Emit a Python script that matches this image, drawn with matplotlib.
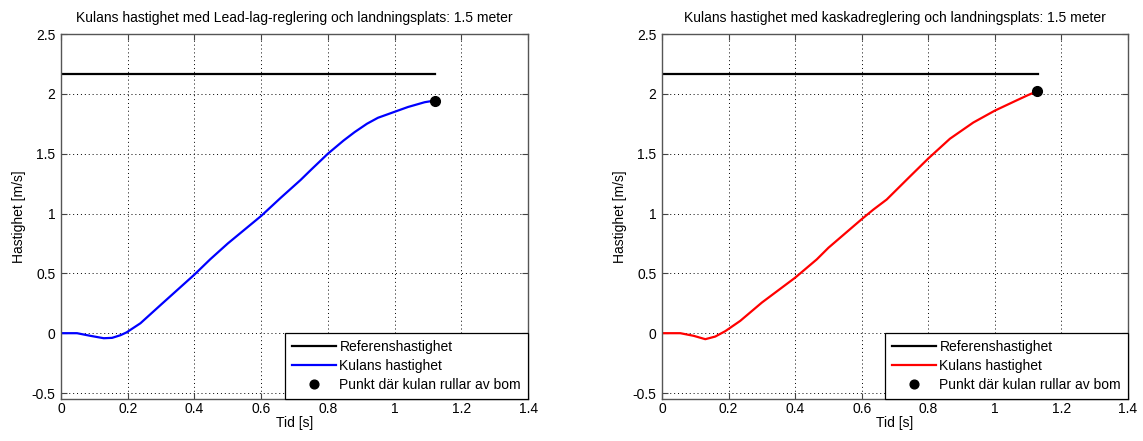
import numpy as np
import matplotlib.pyplot as plt

plt.rcParams['font.family'] = ['Liberation Sans', 'DejaVu Sans']
plt.rcParams['font.size'] = 10

# Lead-lag controller (left)
t_lead = [0, 0.048, 0.088, 0.128, 0.153, 0.178, 0.196, 0.238, 0.301, 0.4, 0.447, 0.5,
          0.6, 0.658, 0.718, 0.75, 0.8, 0.847, 0.88, 0.917, 0.95, 1.0, 1.04, 1.09, 1.12]
v_lead = [0, 0, -0.022, -0.042, -0.039, -0.017, 0.006, 0.083, 0.242, 0.49, 0.617, 0.75,
          0.98, 1.13, 1.28, 1.367, 1.5, 1.61, 1.68, 1.75, 1.80, 1.85, 1.89, 1.93, 1.944]
ref_lead_t = [0, 1.122]
ref_lead_v = [2.167, 2.167]
end_lead = (1.12, 1.944)

# Cascade controller (right)
t_kask = [0, 0.055, 0.095, 0.13, 0.16, 0.19, 0.235, 0.3, 0.4, 0.465, 0.5, 0.6, 0.635,
          0.675, 0.745, 0.8, 0.865, 0.935, 1.0, 1.065, 1.1, 1.127]
v_kask = [0, 0, -0.022, -0.05, -0.028, 0.017, 0.103, 0.256, 0.464, 0.617, 0.714, 0.953,
          1.033, 1.117, 1.31, 1.46, 1.625, 1.76, 1.86, 1.945, 1.99, 2.022]
ref_kask_t = [0, 1.13]
ref_kask_v = [2.167, 2.167]
end_kask = (1.127, 2.022)

x_ticks = [0, 0.2, 0.4, 0.6, 0.8, 1, 1.2, 1.4]
x_ticklabels = ['0', '0.2', '0.4', '0.6', '0.8', '1', '1.2', '1.4']
y_ticks = [-0.5, 0, 0.5, 1, 1.5, 2, 2.5]
y_ticklabels = ['-0.5', '0', '0.5', '1', '1.5', '2', '2.5']

panels = [
    ("Kulans hastighet med Lead-lag-reglering och landningsplats: 1.5 meter",
     t_lead, v_lead, ref_lead_t, ref_lead_v, end_lead, '#0000ff'),
    ("Kulans hastighet med kaskadreglering och landningsplats: 1.5 meter",
     t_kask, v_kask, ref_kask_t, ref_kask_v, end_kask, '#ff0000'),
]

fig = plt.figure(figsize=(11.43, 4.41), dpi=100)
axes_pos = [[0.0534, 0.0952, 0.4086, 0.8277], [0.5792, 0.0952, 0.4077, 0.8277]]

for pos, (title, t, v, rt, rv, end, col) in zip(axes_pos, panels):
    ax = fig.add_axes(pos)
    ax.plot(rt, rv, color='black', lw=1.6, label='Referenshastighet')
    ax.plot(t, v, color=col, lw=1.6, label='Kulans hastighet')
    ax.plot([end[0]], [end[1]], 'o', color='black', ms=7, ls='none',
            label='Punkt där kulan rullar av bom')
    ax.set_xlim(0, 1.4)
    ax.set_ylim(-0.55, 2.5)
    ax.set_xticks(x_ticks)
    ax.set_xticklabels(x_ticklabels)
    ax.set_yticks(y_ticks)
    ax.set_yticklabels(y_ticklabels)
    ax.grid(True, color='black', ls=(0, (1, 3)), lw=0.7)
    ax.tick_params(direction='in', length=4, top=True, right=True, width=0.8,
                   color='#444444', labelsize=10)
    ax.tick_params(axis='x', pad=2)
    ax.tick_params(axis='y', pad=4)
    for s in ax.spines.values():
        s.set_color('#555555')
        s.set_linewidth(1.0)
    ax.set_title(title, fontsize=10, pad=9)
    ax.set_xlabel('Tid [s]', fontsize=10, labelpad=0)
    ax.set_ylabel('Hastighet [m/s]', fontsize=10, labelpad=4)
    leg = ax.legend(loc='lower right', borderaxespad=0, fancybox=False,
                    edgecolor='black', framealpha=1, fontsize=10,
                    handlelength=3.2, handletextpad=0.25, borderpad=0.5,
                    labelspacing=0.38, markerscale=0.9)
    leg.get_frame().set_linewidth(0.9)

fig.savefig('out.png', dpi=100)
